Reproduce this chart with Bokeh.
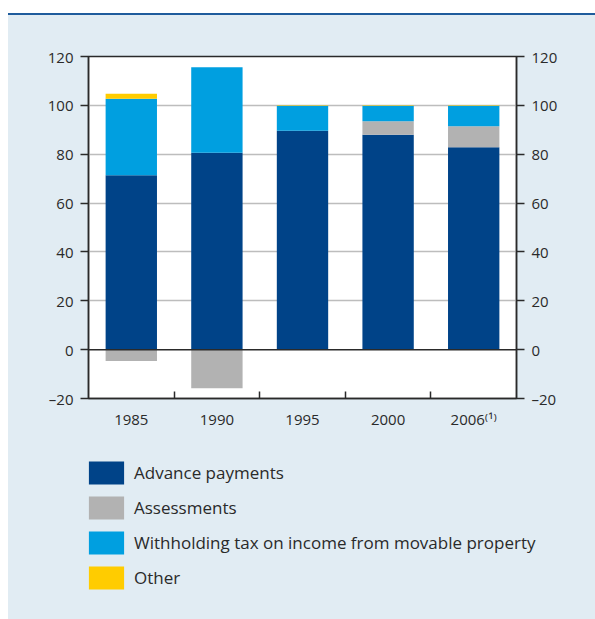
import numpy as np
from bokeh.plotting import figure
from bokeh.models import (ColumnDataSource, Range1d, LinearAxis, FixedTicker, Legend,
                          LegendItem, Span, Div, Grid)
from bokeh.layouts import column
from bokeh.embed import file_html
from bokeh.resources import INLINE

# ---- data ----
years = ["1985", "1990", "1995", "2000", "2006"]
year_labels = ["1985", "1990", "1995", "2000", "2006⁽¹⁾"]
advance = [71.4, 80.6, 89.6, 88.0, 82.8]
assessments = [-4.6, -15.8, 0.0, 5.5, 8.6]
withholding = [31.3, 35.0, 10.2, 6.3, 8.4]
other = [2.1, 0.0, 0.2, 0.2, 0.2]
y_ticks = [-20, 0, 20, 40, 60, 80, 100, 120]
y_tick_labels = ["–20", "0", "20", "40", "60", "80", "100", "120"]
series_names = ["Advance payments", "Assessments",
                "Withholding tax on income from movable property", "Other"]

# ---- styles ----
colors = ["#004388", "#B2B2B2", "#009FE0", "#FFCC00"]
panel = "#E1ECF3"
ink = "#2a2a2a"
font = "Open Sans"

x = np.arange(len(years)) + 0.5
adv = np.array(advance)
ass = np.array(assessments)
wh = np.array(withholding)
ot = np.array(other)
ass_bottom = np.where(ass >= 0, adv, 0.0)
ass_top = ass_bottom + ass
pos_top = adv + np.clip(ass, 0, None)
wh_top = pos_top + wh
ot_top = wh_top + ot

src = ColumnDataSource(dict(x=x, adv_b=np.zeros(len(x)), adv_t=adv,
                            ass_b=ass_bottom, ass_t=ass_top,
                            wh_b=pos_top, wh_t=wh_top,
                            ot_b=wh_top, ot_t=ot_top))
layers = [("adv_b", "adv_t"), ("ass_b", "ass_t"), ("wh_b", "wh_t"), ("ot_b", "ot_t")]

# ---- chart ----
p = figure(width=587, height=425, x_range=Range1d(0, 5), y_range=Range1d(-20, 120),
           output_backend="svg", toolbar_location=None,
           x_axis_type=None, y_axis_type=None,
           min_border_left=80, min_border_right=79, min_border_top=41, min_border_bottom=42,
           border_fill_color=panel, background_fill_color="white",
           outline_line_color=ink, outline_line_width=1.5)
p.frame_align = False

p.add_layout(Grid(dimension=1, ticker=FixedTicker(ticks=[20, 40, 60, 80, 100]),
                  grid_line_color="#BDBDBD", grid_line_width=1.3))

overrides = {t: l for t, l in zip(y_ticks, y_tick_labels)}
for side in ("left", "right"):
    ax = LinearAxis(ticker=FixedTicker(ticks=y_ticks), major_label_overrides=overrides,
                    major_tick_out=8, major_tick_in=0, minor_tick_out=0, minor_tick_in=0,
                    major_tick_line_color=ink, major_tick_line_width=1.5,
                    axis_line_color=ink, axis_line_width=1.5,
                    major_label_text_font=font, major_label_text_font_size="15px",
                    major_label_text_color=ink, major_label_standoff=7)
    p.add_layout(ax, side)

xax = LinearAxis(ticker=FixedTicker(ticks=list(x), minor_ticks=[1, 2, 3, 4]),
                 major_label_overrides={float(xi): l for xi, l in zip(x, year_labels)},
                 major_tick_in=0, major_tick_out=0, minor_tick_in=7, minor_tick_out=0,
                 minor_tick_line_color=ink, minor_tick_line_width=1.5,
                 axis_line_color=ink, axis_line_width=1.5,
                 major_label_text_font=font, major_label_text_font_size="15px",
                 major_label_text_color=ink, major_label_standoff=10)
p.add_layout(xax, "below")

for (b, t), c in zip(layers, colors):
    p.vbar(x="x", width=0.6, bottom=b, top=t, source=src, fill_color=c, line_color=None)

p.add_layout(Span(location=0, dimension="width", line_color=ink, line_width=1.5))

# ---- legend panel (same series, legend only; bars lie outside its ranges) ----
q = figure(width=587, height=179, x_range=Range1d(100, 101), y_range=Range1d(500, 501),
           output_backend="svg", toolbar_location=None,
           x_axis_type=None, y_axis_type=None, min_border=0,
           border_fill_color=panel, background_fill_color=panel, outline_line_color=None)
q.frame_align = False
rs = [q.vbar(x="x", width=0.6, bottom=b, top=t, source=src, fill_color=c, line_color=None)
      for (b, t), c in zip(layers, colors)]
legend = Legend(items=[LegendItem(label=n, renderers=[r]) for n, r in zip(series_names, rs)],
                location=(76, 27), orientation="vertical",
                glyph_width=44, glyph_height=29, spacing=6, padding=0, margin=0,
                label_standoff=6, label_text_font=font, label_text_font_size="17px",
                label_text_color=ink, background_fill_alpha=0, border_line_alpha=0)
q.add_layout(legend)

top_bar = Div(text="", width=587, height=15, margin=0,
              styles={"background-color": "white", "border-bottom": "2px solid #1F5C9C",
                      "box-sizing": "border-box"})

layout = column(top_bar, p, q, spacing=0, margin=(0, 0, 0, 8),
                styles={"background-color": panel})
open("out.html", "w").write(file_html(layout, INLINE))
